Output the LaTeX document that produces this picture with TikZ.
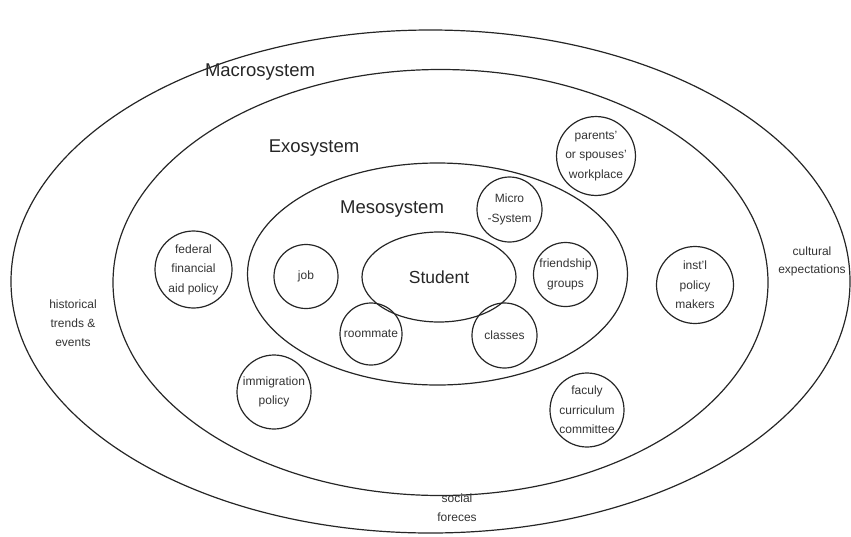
\documentclass[tikz,border=0pt]{standalone}
\usepackage{fontspec}
\setmainfont{Liberation Sans}
\usetikzlibrary{shapes.geometric}
\begin{document}
\begin{tikzpicture}[x=1pt,y=-1pt,
  ring/.style={draw=black!85, line width=1.2pt, ellipse, inner sep=0pt},
  bub/.style={draw=black!85, line width=1.2pt, circle, inner sep=0pt, align=center, font=\fontsize{12}{19.5}\selectfont, text=black!80},
  title/.style={font=\fontsize{18.5}{22}\selectfont, text=black!85},
  note/.style={align=center, font=\fontsize{12}{19}\selectfont, text=black!80}]
\useasboundingbox (0,0) rectangle (851,536);
\node[ring, minimum width=839pt, minimum height=503pt] (macro) at (430.5,281.5) {};
\node[ring, minimum width=655pt, minimum height=426pt] (exo) at (440.5,282.5) {};
\node[ring, minimum width=380pt, minimum height=222pt] (meso) at (437.5,274) {};
\node[ring, minimum width=154pt, minimum height=90pt, font=\fontsize{17.5}{21}\selectfont, text=black!85] (student) at (439,277) {Student};
\node[title] (macrolbl) at (260,72) {Macrosystem};
\node[title] (exolbl) at (314,148) {Exosystem};
\node[title] (mesolbl) at (392,209) {Mesosystem};
\node[bub, minimum size=76pt] (parents) at (596,156) {parents'\\or spouses'\\workplace};
\node[bub, minimum size=65pt] (micro) at (509.5,209.5) {Micro\\-System};
\node[bub, minimum size=77pt] (federal) at (193.5,269.5) {federal\\financial\\aid policy};
\node[bub, minimum size=64pt] (job) at (306,276.5) {job};
\node[bub, minimum size=64pt] (friend) at (565.5,274.5) {friendship\\groups};
\node[bub, minimum size=77pt] (inst) at (695,285) {inst'l\\policy\\makers};
\node[bub, minimum size=62pt] (room) at (371,334) {roommate};
\node[bub, minimum size=65pt] (classes) at (504.5,335.5) {classes};
\node[bub, minimum size=74pt] (immig) at (274,392) {immigration\\policy};
\node[bub, minimum size=74pt] (faculty) at (587,410) {faculy\\curriculum\\committee};
\node[note, font=\fontsize{12}{18}\selectfont] (cultural) at (812,261) {cultural\\expectations};
\node[note] (historical) at (73,323) {historical\\trends \&\\events};
\node[note] (social) at (457,508) {social\\foreces};
\end{tikzpicture}
\end{document}
